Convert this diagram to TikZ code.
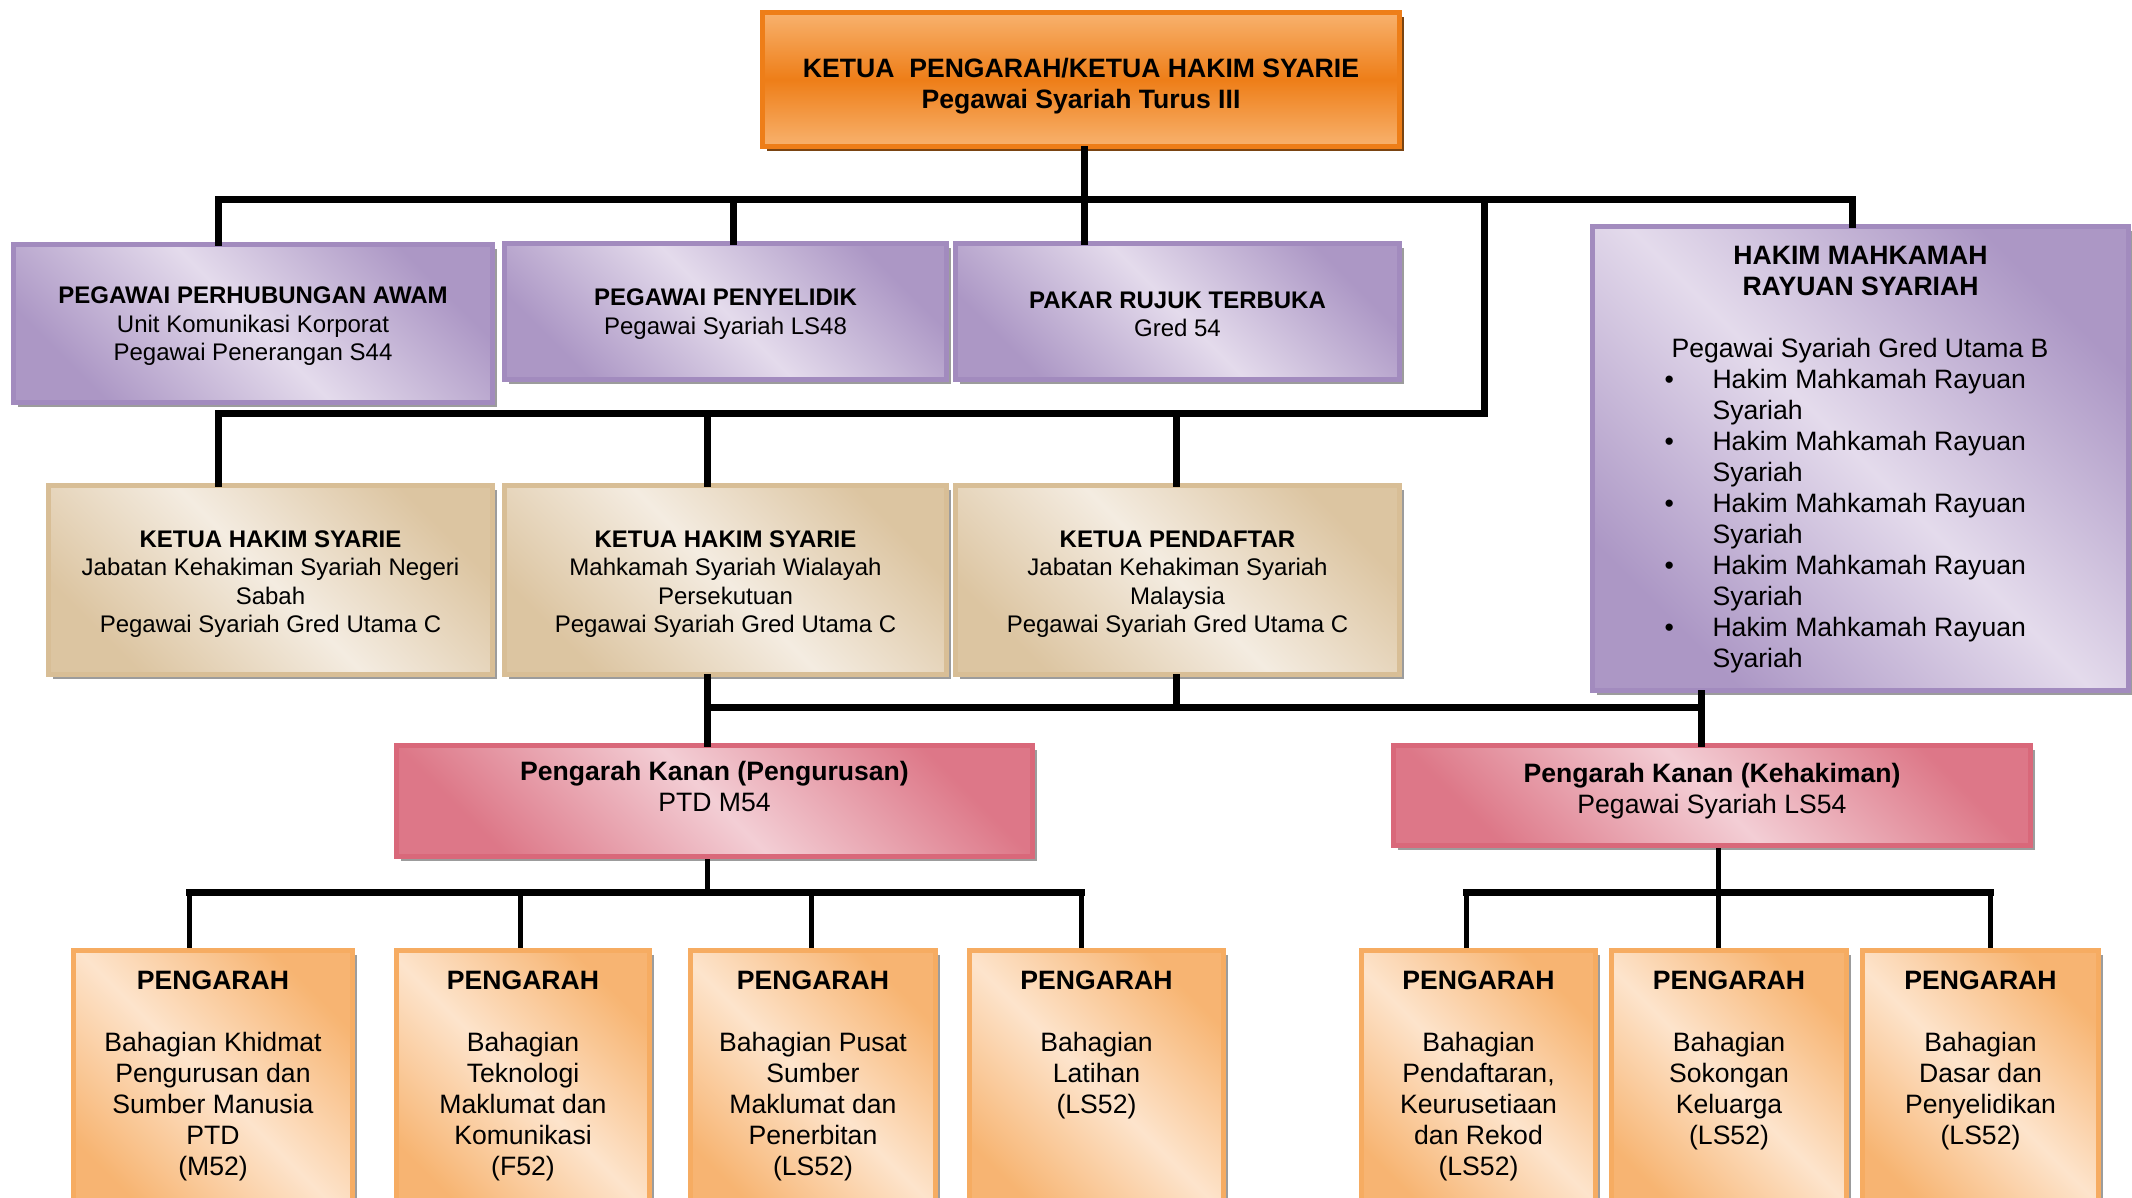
\documentclass[tikz,border=0pt]{standalone}
\usepackage{fontspec}
\setmainfont{Liberation Sans}
\usetikzlibrary{shadows}
\definecolor{topD}{HTML}{EE7E18}
\definecolor{topL}{HTML}{F8B26E}
\definecolor{topS}{HTML}{7A4412}
\definecolor{purD}{HTML}{A28BBE}
\definecolor{purL}{HTML}{E4DBEC}
\definecolor{begD}{HTML}{D8BE96}
\definecolor{begL}{HTML}{F4ECE1}
\definecolor{pinD}{HTML}{D9687A}
\definecolor{pinL}{HTML}{F3CED5}
\definecolor{orgD}{HTML}{F6AC62}
\definecolor{orgL}{HTML}{FDE4CC}
\definecolor{shadowgray}{HTML}{9C9C9C}
\newcommand\bigtxt{\fontsize{26.6}{31}\selectfont}
\newcommand\smalltxt{\fontsize{24}{28.3}\selectfont}
\newcommand\topbox[3]{\parbox[c][#2][t]{#1}{\centering #3}}
\begin{document}
\begin{tikzpicture}[x=1pt,y=-1pt,
  diag/.style={draw=#1D, left color=#1D!85!#1L, right color=#1D!85!#1L, middle color=#1L, shading angle=-45},
  shad/.style={drop shadow={shadow xshift=4pt, shadow yshift=-4pt, fill=#1, opacity=1}},
  card/.style={shad=shadowgray, line width=5pt, anchor=north west, align=center},
  link/.style={line width=7pt, line cap=rect},
  thinlink/.style={line width=5pt}]
\useasboundingbox (0,0) rectangle (2132,1197);
\node[shad=topS, line width=5pt, anchor=north west, align=center, draw=topD, top color=topL, bottom color=topL, middle color=topD,
  minimum width=637pt, minimum height=134pt, font=\bigtxt\bfseries] (ketua) at (760,10)
  {\rule{0pt}{33pt}KETUA\ \ PENGARAH/KETUA HAKIM SYARIE\\Pegawai Syariah Turus III};
\node[card, diag=pur, minimum width=479pt, minimum height=158pt, font=\smalltxt] (ppa) at (11,242)
  {\rule{0pt}{22pt}\textbf{PEGAWAI PERHUBUNGAN AWAM}\\Unit Komunikasi Korporat\\Pegawai Penerangan S44};
\node[card, diag=pur, minimum width=442pt, minimum height=136pt, font=\smalltxt] (pp) at (502,241)
  {\rule{0pt}{22pt}\textbf{PEGAWAI PENYELIDIK}\\Pegawai Syariah LS48};
\node[card, diag=pur, minimum width=444pt, minimum height=136pt, font=\smalltxt] (prt) at (953,241)
  {\rule{0pt}{22pt}\textbf{PAKAR RUJUK TERBUKA}\\Gred 54};
\node[card, diag=pur, inner xsep=0pt, inner ysep=20pt, font=\bigtxt] (hmra) at (1590,224)
  {\parbox[c][424pt][t]{536pt}{\centering\bfseries HAKIM MAHKAMAH\\RAYUAN SYARIAH\par
   \mdseries\raggedright\mbox{}\\
   \hspace*{79pt}Pegawai Syariah Gred Utama B\\
   \hspace*{72pt}\makebox[48pt][l]{\textbullet}Hakim Mahkamah Rayuan\\
   \hspace*{120pt}Syariah\\
   \hspace*{72pt}\makebox[48pt][l]{\textbullet}Hakim Mahkamah Rayuan\\
   \hspace*{120pt}Syariah\\
   \hspace*{72pt}\makebox[48pt][l]{\textbullet}Hakim Mahkamah Rayuan\\
   \hspace*{120pt}Syariah\\
   \hspace*{72pt}\makebox[48pt][l]{\textbullet}Hakim Mahkamah Rayuan\\
   \hspace*{120pt}Syariah\\
   \hspace*{72pt}\makebox[48pt][l]{\textbullet}Hakim Mahkamah Rayuan\\
   \hspace*{120pt}Syariah}};
\node[card, diag=beg, minimum width=444pt, minimum height=189pt, font=\smalltxt] (khs1) at (46,483)
  {\rule{0pt}{25pt}\textbf{KETUA HAKIM SYARIE}\\Jabatan Kehakiman Syariah Negeri\\Sabah\\Pegawai Syariah Gred Utama C};
\node[card, diag=beg, minimum width=442pt, minimum height=189pt, font=\smalltxt] (khs2) at (502,483)
  {\rule{0pt}{25pt}\textbf{KETUA HAKIM SYARIE}\\Mahkamah Syariah Wialayah\\Persekutuan\\Pegawai Syariah Gred Utama C};
\node[card, diag=beg, minimum width=444pt, minimum height=189pt, font=\smalltxt] (kp) at (953,483)
  {\rule{0pt}{25pt}\textbf{KETUA PENDAFTAR}\\Jabatan Kehakiman Syariah\\Malaysia\\Pegawai Syariah Gred Utama C};
\node[card, diag=pin, minimum width=636pt, minimum height=111pt, font=\bigtxt] (pkp) at (394,743)
  {\textbf{Pengarah Kanan (Pengurusan)}\\\rule[-30pt]{0pt}{0pt}PTD M54};
\node[card, diag=pin, minimum width=637pt, minimum height=100pt, font=\bigtxt] (pkk) at (1391,743)
  {\textbf{Pengarah Kanan (Kehakiman)}\\\rule[-14pt]{0pt}{0pt}Pegawai Syariah LS54};
\node[card, diag=org, inner xsep=0pt, inner ysep=20pt, font=\bigtxt] (bkpsm) at (71,948)
  {\topbox{279pt}{230pt}{\textbf{PENGARAH}\\ \mbox{}\\ Bahagian Khidmat\\ Pengurusan dan\\ Sumber Manusia\\ PTD\\ (M52)}};
\node[card, diag=org, inner xsep=0pt, inner ysep=20pt, font=\bigtxt] (btmk) at (394,948)
  {\topbox{253pt}{230pt}{\textbf{PENGARAH}\\ \mbox{}\\ Bahagian\\ Teknologi\\ Maklumat dan\\ Komunikasi\\ (F52)}};
\node[card, diag=org, inner xsep=0pt, inner ysep=20pt, font=\bigtxt] (bpsmp) at (688,948)
  {\topbox{245pt}{230pt}{\textbf{PENGARAH}\\ \mbox{}\\ Bahagian Pusat\\ Sumber\\ Maklumat dan\\ Penerbitan\\ (LS52)}};
\node[card, diag=org, inner xsep=0pt, inner ysep=20pt, font=\bigtxt] (blat) at (967,948)
  {\topbox{254pt}{230pt}{\textbf{PENGARAH}\\ \mbox{}\\ Bahagian\\ Latihan\\ (LS52)}};
\node[card, diag=org, inner xsep=0pt, inner ysep=20pt, font=\bigtxt] (bpkr) at (1359,948)
  {\topbox{234pt}{230pt}{\textbf{PENGARAH}\\ \mbox{}\\ Bahagian\\ Pendaftaran,\\ Keurusetiaan\\ dan Rekod\\ (LS52)}};
\node[card, diag=org, inner xsep=0pt, inner ysep=20pt, font=\bigtxt] (bsk) at (1609,948)
  {\topbox{235pt}{230pt}{\textbf{PENGARAH}\\ \mbox{}\\ Bahagian\\ Sokongan\\ Keluarga\\ (LS52)}};
\node[card, diag=org, inner xsep=0pt, inner ysep=20pt, font=\bigtxt] (bdp) at (1860,948)
  {\topbox{236pt}{230pt}{\textbf{PENGARAH}\\ \mbox{}\\ Bahagian\\ Dasar dan\\ Penyelidikan\\ (LS52)}};
\coordinate (a1) at (218,199);
\coordinate (a2) at (733,199);
\coordinate (a3) at (1084,199);
\coordinate (a4) at (1484,199);
\coordinate (a5) at (1852,199);
\coordinate (b1) at (218,413);
\coordinate (b2) at (707,413);
\coordinate (b3) at (1176,413);
\coordinate (b4) at (1484,413);
\coordinate (c1) at (707,707);
\coordinate (c2) at (1176,707);
\coordinate (c3) at (1701,707);
\coordinate (d1) at (189,892);
\coordinate (d2) at (520,892);
\coordinate (d3) at (707,892);
\coordinate (d4) at (811,892);
\coordinate (d5) at (1081,892);
\coordinate (e1) at (1466,892);
\coordinate (e2) at (1718,892);
\coordinate (e3) at (1990,892);
\draw[link] (a1) -- (a5);
\draw[link] (ketua.south -| a3) -- (prt.north -| a3);
\draw[link] (a1) -- (a1 |- ppa.north);
\draw[link] (a2) -- (a2 |- pp.north);
\draw[link] (a5) -- (a5 |- hmra.north);
\draw[link] (a4) -- (b4) -- (b1);
\draw[link] (b1) -- (b1 |- khs1.north);
\draw[link] (b2) -- (b2 |- khs2.north);
\draw[link] (b3) -- (b3 |- kp.north);
\draw[link] (c1) -- (c3);
\draw[link] (khs2.south -| c1) -- (pkp.north -| c1);
\draw[link] (kp.south -| c2) -- (c2);
\draw[link] (hmra.south -| c3) -- (pkk.north -| c3);
\draw[link] (d1) -- (d5);
\draw[thinlink] (pkp.south -| d3) -- (d3);
\draw[thinlink] (d1) -- (d1 |- bkpsm.north);
\draw[thinlink] (d2) -- (d2 |- btmk.north);
\draw[thinlink] (d4) -- (d4 |- bpsmp.north);
\draw[thinlink] (d5) -- (d5 |- blat.north);
\draw[link] (e1) -- (e3);
\draw[thinlink] (pkk.south -| e2) -- (e2);
\draw[thinlink] (e1) -- (e1 |- bpkr.north);
\draw[thinlink] (e2) -- (e2 |- bsk.north);
\draw[thinlink] (e3) -- (e3 |- bdp.north);
\end{tikzpicture}
\end{document}
